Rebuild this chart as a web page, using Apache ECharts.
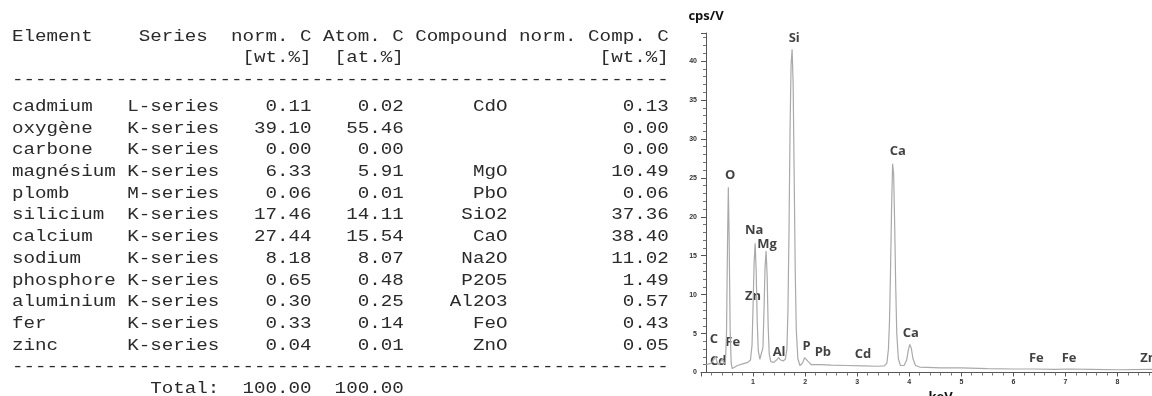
<!DOCTYPE html>
<html>
<head>
<meta charset="utf-8">
<script src="https://cdn.jsdelivr.net/npm/echarts@6/dist/echarts.min.js"></script>
<style>
  html, body { margin: 0; padding: 0; background: #fff; }
  #main { width: 1152px; height: 396px; }
</style>
</head>
<body>
<div id="main"></div>
<script>
// table data (EDS quantification)
var elementNames = ['cadmium', 'oxygène', 'carbone', 'magnésium', 'plomb', 'silicium',
                    'calcium', 'sodium', 'phosphore', 'aluminium', 'fer', 'zinc'];
var lineSeries = ['L-series', 'K-series', 'K-series', 'K-series', 'M-series', 'K-series',
                  'K-series', 'K-series', 'K-series', 'K-series', 'K-series', 'K-series'];
var normC = [0.11, 39.10, 0.00, 6.33, 0.06, 17.46, 27.44, 8.18, 0.65, 0.30, 0.33, 0.04];
var atomC = [0.02, 55.46, 0.00, 5.91, 0.01, 14.11, 15.54, 8.07, 0.48, 0.25, 0.14, 0.01];
var compounds = ['CdO', '', '', 'MgO', 'PbO', 'SiO2', 'CaO', 'Na2O', 'P2O5', 'Al2O3', 'FeO', 'ZnO'];
var compC = [0.13, 0.00, 0.00, 10.49, 0.06, 37.36, 38.40, 11.02, 1.49, 0.57, 0.43, 0.05];
var totals = [100.00, 100.00];

// spectrum (energy in keV, counts in cps/V)
var specKeV = [0.10, 0.15, 0.20, 0.24, 0.28, 0.31, 0.35, 0.38, 0.41, 0.44, 0.47, 0.49, 0.51, 0.525,
               0.54, 0.56, 0.58, 0.60, 0.63, 0.70, 0.80, 0.90, 0.95, 0.98, 1.00, 1.02, 1.04, 1.06,
               1.08, 1.10, 1.13, 1.16, 1.19, 1.21, 1.23, 1.25, 1.27, 1.29, 1.31, 1.34, 1.40, 1.45,
               1.49, 1.53, 1.58, 1.62, 1.65, 1.67, 1.69, 1.71, 1.73, 1.75, 1.77, 1.79, 1.81, 1.83,
               1.86, 1.90, 1.95, 1.99, 2.02, 2.06, 2.12, 2.30, 2.50, 2.80, 3.10, 3.40, 3.52, 3.57,
               3.60, 3.62, 3.64, 3.66, 3.68, 3.70, 3.72, 3.74, 3.76, 3.79, 3.83, 3.90, 3.95, 3.98,
               4.01, 4.04, 4.07, 4.12, 4.20, 4.60, 5.00, 5.50, 6.00, 6.40, 6.80, 7.06, 7.50, 8.00,
               8.63, 9.00];
var specCps = [1.0, 1.1, 1.2, 1.6, 2.1, 1.3, 1.0, 1.4, 1.8, 1.1, 1.4, 5.0, 17.0, 23.8,
               17.5, 5.5, 1.2, 0.5, 0.6, 0.9, 1.1, 1.3, 1.6, 3.5, 8.5, 14.0, 16.6, 13.0,
               6.5, 2.8, 1.7, 1.6, 3.2, 8.0, 13.5, 15.6, 12.5, 6.0, 2.4, 1.4, 1.3, 1.6,
               1.9, 1.6, 1.5, 1.7, 3.0, 8.0, 18.0, 31.0, 39.5, 41.5, 37.0, 25.0, 13.0, 5.5,
               1.8, 0.9, 1.2, 1.9, 2.1, 1.4, 1.0, 1.0, 0.95, 0.9, 0.85, 0.8, 0.85, 1.2,
               3.0, 6.5, 13.0, 21.0, 26.8, 25.5, 19.0, 11.0, 5.0, 1.8, 0.9, 0.9, 1.6, 2.8,
               3.6, 3.1, 1.8, 0.9, 0.7, 0.6, 0.6, 0.5, 0.45, 0.45, 0.4, 0.45, 0.4, 0.35,
               0.4, 0.35];

// peak labels
var peakNames = ['Si', 'Ca', 'O', 'Na', 'Mg', 'Zn', 'C', 'Fe', 'Cd', 'Al', 'P', 'Pb', 'Cd', 'Ca', 'Fe', 'Fe', 'Zn'];
var peakKeV = [1.79, 3.78, 0.56, 1.02, 1.27, 1.00, 0.25, 0.61, 0.33, 1.50, 2.03, 2.34, 3.11, 4.03, 6.44, 7.07, 8.59];
var peakCps = [42.9, 28.4, 25.3, 18.2, 16.5, 9.8, 4.2, 3.9, 1.5, 2.6, 3.4, 2.6, 2.3, 5.05, 1.8, 1.8, 1.8];

var myChart = echarts.init(document.getElementById('main'));

// build the monospaced report lines
function fmt(v) { return v.toFixed(2); }
var tableLines = [];
tableLines.push('Element'.padEnd(11) + 'Series'.padEnd(8) + 'norm. C Atom. C Compound norm. Comp. C');
tableLines.push(''.padEnd(18) + '[wt.%]'.padStart(8) + '[at.%]'.padStart(8) + ''.padStart(9) + '[wt.%]'.padStart(14));
tableLines.push(''.padEnd(57, '-'));
elementNames.forEach(function (name, i) {
    tableLines.push(name.padEnd(10) + lineSeries[i].padEnd(8) + fmt(normC[i]).padStart(8) +
        fmt(atomC[i]).padStart(8) + compounds[i].padStart(9) + fmt(compC[i]).padStart(14));
});
tableLines.push(''.padEnd(57, '-'));
tableLines.push('Total:'.padStart(18) + fmt(totals[0]).padStart(8) + fmt(totals[1]).padStart(8));

var lineY = [37, 57.5, 80];
for (var k = 0; k < elementNames.length + 2; k++) lineY.push(106.7 + k * 21.7);

var graphics = tableLines.map(function (t, i) {
    return {
        type: 'text',
        x: 12,
        y: lineY[i],
        scaleX: 1.2,
        silent: true,
        style: {
            text: t,
            font: '16px "Liberation Mono", monospace',
            fill: '#2a2a2a',
            verticalAlign: 'middle'
        }
    };
});

var spectrum = specKeV.map(function (x, i) { return [x, specCps[i]]; });
var peaks = peakNames.map(function (n, i) { return [peakKeV[i], peakCps[i], n]; });

var option = {
    animation: false,
    backgroundColor: '#fff',
    graphic: graphics,
    // spectrum runs past the right edge of the picture, so the grid does too
    grid: { left: 701, right: -28, top: 33, bottom: 23.5, outerBoundsMode: 'none', containLabel: false },
    xAxis: {
        type: 'value',
        min: 0,
        max: 9.2,
        interval: 1,
        name: 'keV',
        nameLocation: 'middle',
        nameGap: 17,
        nameTextStyle: { fontFamily: 'Open Sans', fontWeight: 'bold', fontSize: 13, color: '#111' },
        axisLine: { onZero: false, lineStyle: { color: '#555', width: 1 } },
        axisTick: { length: 4, lineStyle: { color: '#555' } },
        minorTick: { show: true, splitNumber: 5, length: 3, lineStyle: { color: '#777' } },
        axisLabel: { margin: 6, fontSize: 7, fontWeight: 'bold', color: '#333', showMinLabel: false },
        splitLine: { show: false }
    },
    yAxis: {
        type: 'value',
        min: 0,
        max: 43.6,
        interval: 5,
        offset: -5,
        name: 'cps/V',
        nameGap: 10,
        nameTextStyle: { fontFamily: 'Open Sans', fontWeight: 'bold', fontSize: 13, color: '#111' },
        axisLine: { show: true, lineStyle: { color: '#555', width: 1 } },
        axisTick: { show: true, length: 5, lineStyle: { color: '#555' } },
        minorTick: { show: true, splitNumber: 5, length: 3, lineStyle: { color: '#777' } },
        axisLabel: { margin: 9, fontSize: 7, fontWeight: 'bold', color: '#333', showMaxLabel: false },
        splitLine: { show: false }
    },
    series: [
        {
            type: 'line',
            data: spectrum,
            showSymbol: false,
            lineStyle: { color: '#a9a9a9', width: 1.2 },
            silent: true
        },
        {
            type: 'scatter',
            data: peaks,
            symbolSize: 0,
            silent: true,
            label: {
                show: true,
                position: 'inside',
                formatter: function (p) { return p.data[2]; },
                fontFamily: 'Open Sans',
                fontWeight: 'bold',
                fontSize: 13,
                color: '#111'
            }
        }
    ]
};

myChart.setOption(option);
</script>
</body>
</html>
